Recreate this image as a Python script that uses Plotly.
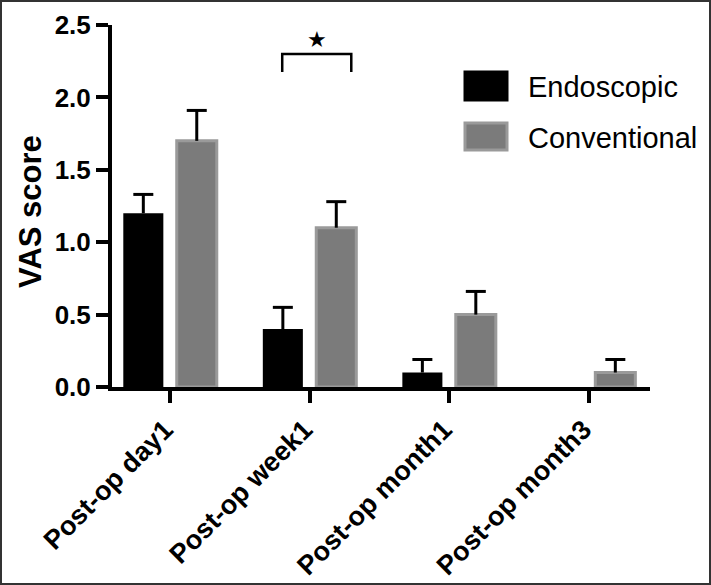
import plotly.graph_objects as go

categories = ["Post-op day1", "Post-op week1", "Post-op month1", "Post-op month3"]
endoscopic = [1.20, 0.40, 0.10, 0.0]
endoscopic_err = [0.13, 0.15, 0.09, None]
conventional = [1.70, 1.10, 0.50, 0.10]
conventional_err = [0.21, 0.18, 0.16, 0.09]
y_ticks = [0.0, 0.5, 1.0, 1.5, 2.0, 2.5]

FONT = "Liberation Sans, Arial, sans-serif"
W, H = 711, 585
L, R, T, B = 112, 61, 25, 198
PW, PH = W - L - R, H - T - B
XR = [-0.416, 3.44]
BAR_W = 0.287
OFFS = {"Endoscopic": -0.335, "Conventional": 0.048}
CAP = 10 / (PW / (XR[1] - XR[0]))  # cap half-width in x units


def px_x(p):
    return (p - L) / PW


def px_y(p):
    return (H - B - p) / PH


xpos = list(range(len(categories)))

fig = go.Figure()


def add_series(name, vals, errs, fill, edge, edge_w):
    fig.add_trace(go.Bar(
        x=xpos, y=vals, name=name,
        marker=dict(color=fill, line=dict(color=edge, width=edge_w)),
        width=BAR_W, offset=OFFS[name],
    ))
    ex, ey = [], []
    for i, (v, e) in enumerate(zip(vals, errs)):
        if e is None:
            continue
        c = i + OFFS[name] + BAR_W / 2
        ex += [c, c, None, c - CAP, c + CAP, None]
        ey += [v, v + e, None, v + e, v + e, None]
    fig.add_trace(go.Scatter(x=ex, y=ey, mode="lines", hoverinfo="skip",
                             line=dict(color="#000000", width=3), showlegend=False))


add_series("Endoscopic", endoscopic, endoscopic_err, "#000000", "#000000", 0)
add_series("Conventional", conventional, conventional_err, "#7b7b7b", "#9a9a9a", 3)

shapes = []
annotations = []

# significance bracket
shapes.append(dict(type="path", xref="x", yref="y",
                   path="M 0.804,2.175 L 0.804,2.30 L 1.299,2.30 L 1.299,2.175",
                   line=dict(color="#000000", width=2.5)))
annotations.append(dict(x=1.054, y=2.40, xref="x", yref="y", text="★",
                        showarrow=False, font=dict(family="DejaVu Sans", size=22, color="#000000")))

# manual legend
for (name, fill, edge, top, bot) in [("Endoscopic", "#000000", "#000000", 72, 100),
                                      ("Conventional", "#7b7b7b", "#9a9a9a", 123, 150)]:
    shapes.append(dict(type="rect", xref="paper", yref="paper",
                       x0=px_x(465), x1=px_x(507), y0=px_y(bot), y1=px_y(top),
                       fillcolor=fill, line=dict(color=edge, width=3)))
    annotations.append(dict(x=px_x(526), y=px_y((top + bot) / 2 + 1), xref="paper", yref="paper",
                            text=name, showarrow=False, xanchor="left", yanchor="middle",
                            font=dict(family=FONT, size=29, color="#000000")))

# y-axis title
annotations.append(dict(x=px_x(30), y=px_y(212), xref="paper", yref="paper",
                        text="<b>VAS score</b>", textangle=-90, showarrow=False,
                        xanchor="center", yanchor="middle",
                        font=dict(family=FONT, size=31, color="#000000")))

# image frame
shapes.append(dict(type="rect", xref="paper", yref="paper",
                   x0=px_x(1), x1=px_x(710), y0=px_y(584), y1=px_y(1),
                   line=dict(color="#333333", width=2), fillcolor="rgba(0,0,0,0)"))

fig.update_layout(
    width=W, height=H,
    margin=dict(l=L, r=R, t=T, b=B, autoexpand=False),
    paper_bgcolor="#ffffff", plot_bgcolor="#ffffff",
    showlegend=False,
    barmode="overlay",
    shapes=shapes, annotations=annotations,
    font=dict(family=FONT, color="#000000"),
)
fig.update_xaxes(
    range=XR, tickvals=xpos, ticktext=categories,
    showline=True, linecolor="#000000", linewidth=4,
    ticks="outside", ticklen=12, tickwidth=4, tickcolor="#000000",
    tickangle=-45, showgrid=False, zeroline=False,
    tickfont=dict(family=FONT, size=27, weight="bold", color="#000000"),
    ticklabelshift=-5,
    automargin=False,
)
fig.update_yaxes(
    range=[0, 2.5], tickvals=y_ticks, tickformat=".1f",
    showline=True, linecolor="#000000", linewidth=4,
    ticks="outside", ticklen=12, tickwidth=4, tickcolor="#000000",
    showgrid=False, zeroline=False,
    tickfont=dict(family=FONT, size=26, weight="bold", color="#000000"),
    automargin=False,
)

fig.write_html("out.html", config={"displayModeBar": False},
               post_script="document.body.style.margin='0px';")
